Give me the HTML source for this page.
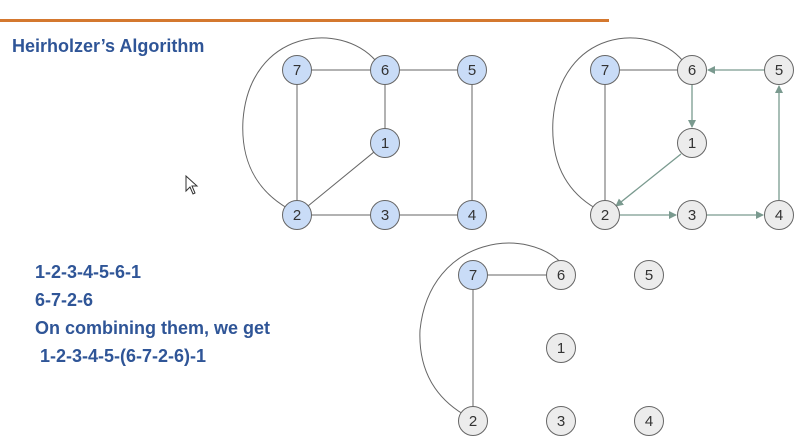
<!DOCTYPE html>
<html><head><style>
html,body{margin:0;padding:0;background:#fff;width:805px;height:442px;overflow:hidden}
.t{position:absolute;font-family:"Liberation Sans",sans-serif;font-weight:bold;color:#2f5597}
</style></head><body>
<div style="position:absolute;left:0;top:19px;width:609px;height:3px;background:#d4782f"></div>
<div class="t" style="left:12px;top:36px;font-size:18px">Heirholzer’s Algorithm</div>
<div class="t" style="left:35px;top:258px;font-size:18px;line-height:28px">1-2-3-4-5-6-1<br>6-7-2-6<br>On combining them, we get<br>&nbsp;1-2-3-4-5-(6-7-2-6)-1</div>
<svg width="805" height="442" style="position:absolute;left:0;top:0" font-family="Liberation Sans,sans-serif" font-size="15" text-anchor="middle">
<defs><marker id="a" markerWidth="8" markerHeight="8" refX="7" refY="4" orient="auto" markerUnits="userSpaceOnUse"><path d="M0,0 L8,4 L0,8 z" fill="#7a9a8f"/></marker></defs>
<g stroke="#666" stroke-width="1" fill="none">
<path d="M376,61 C340,20 250,30 243,120 C240,170 265,195 287,208"/>
<line x1="297" y1="70" x2="472" y2="70"/><line x1="385" y1="70" x2="385" y2="143"/>
<line x1="297" y1="70" x2="297" y2="215"/><line x1="385" y1="143" x2="297" y2="215"/>
<line x1="297" y1="215" x2="472" y2="215"/><line x1="472" y1="70" x2="472" y2="215"/>
<path d="M683,61 C648,20 560,30 553,120 C550,170 573,195 595,208"/>
<line x1="605" y1="70" x2="692" y2="70"/><line x1="605" y1="70" x2="605" y2="215"/>
<path d="M564,266 C530,225 430,235 420,330 C418,375 440,400 463,414"/>
<line x1="473" y1="275" x2="561" y2="275"/><line x1="473" y1="275" x2="473" y2="421"/>
</g>
<g stroke="#7a9a8f" stroke-width="1.3" fill="none" marker-end="url(#a)">
<line x1="764" y1="70" x2="708" y2="70"/><line x1="692" y1="85" x2="692" y2="127"/>
<line x1="681" y1="154" x2="616" y2="206"/><line x1="620" y1="215" x2="676" y2="215"/>
<line x1="707" y1="215" x2="763" y2="215"/><line x1="779" y1="200" x2="779" y2="86"/>
</g>
<g stroke="#666" stroke-width="1">
<g fill="#c9dcf7"><circle cx="297" cy="70" r="14.5"/><circle cx="385" cy="70" r="14.5"/><circle cx="472" cy="70" r="14.5"/><circle cx="385" cy="143" r="14.5"/><circle cx="297" cy="215" r="14.5"/><circle cx="385" cy="215" r="14.5"/><circle cx="472" cy="215" r="14.5"/><circle cx="605" cy="70" r="14.5"/><circle cx="473" cy="275" r="14.5"/></g>
<g fill="#ececec"><circle cx="692" cy="70" r="14.5"/><circle cx="779" cy="70" r="14.5"/><circle cx="692" cy="143" r="14.5"/><circle cx="605" cy="215" r="14.5"/><circle cx="692" cy="215" r="14.5"/><circle cx="779" cy="215" r="14.5"/>
<circle cx="561" cy="275" r="14.5"/><circle cx="649" cy="275" r="14.5"/><circle cx="561" cy="348" r="14.5"/><circle cx="473" cy="421" r="14.5"/><circle cx="561" cy="421" r="14.5"/><circle cx="649" cy="421" r="14.5"/></g>
</g>
<g fill="#333">
<text x="297" y="75">7</text><text x="385" y="75">6</text><text x="472" y="75">5</text><text x="385" y="148">1</text><text x="297" y="220">2</text><text x="385" y="220">3</text><text x="472" y="220">4</text>
<text x="605" y="75">7</text><text x="692" y="75">6</text><text x="779" y="75">5</text><text x="692" y="148">1</text><text x="605" y="220">2</text><text x="692" y="220">3</text><text x="779" y="220">4</text>
<text x="473" y="280">7</text><text x="561" y="280">6</text><text x="649" y="280">5</text><text x="561" y="353">1</text><text x="473" y="426">2</text><text x="561" y="426">3</text><text x="649" y="426">4</text>
</g>
<path d="M186,176 L186,191 L190,187 L193,194 L195,193 L192,186 L197,186 Z" fill="#fff" stroke="#333" stroke-width="1"/>
</svg>
</body></html>
